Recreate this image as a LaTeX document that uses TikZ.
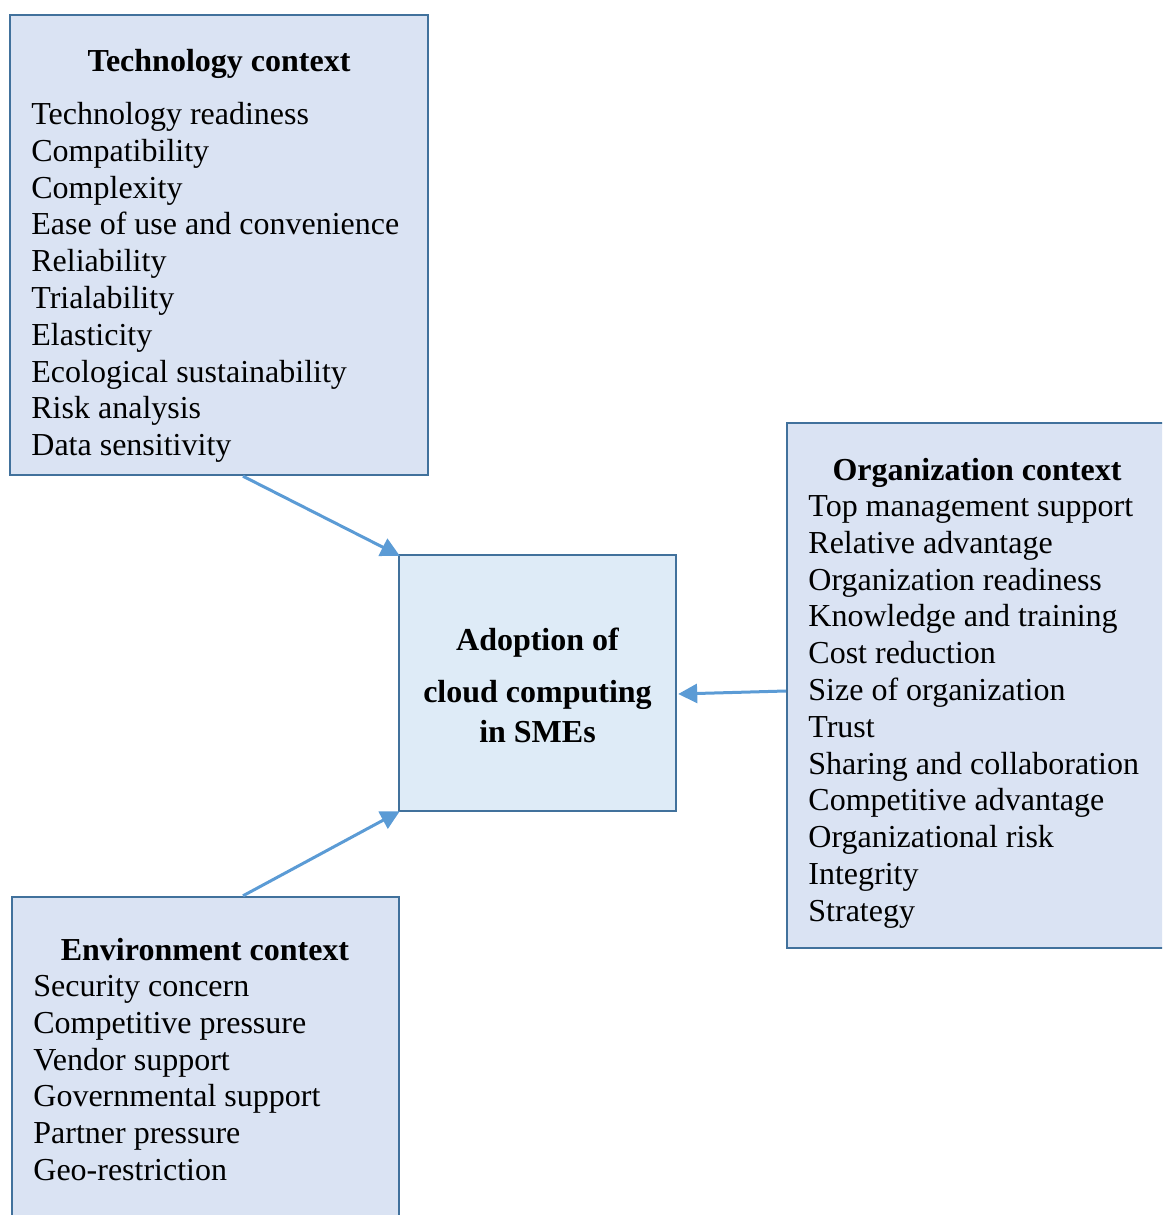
\documentclass[tikz,border=0pt]{standalone}
\usepackage{fontspec}
\setmainfont{Liberation Serif}
\usetikzlibrary{arrows.meta,calc}
\definecolor{boxfill}{HTML}{DAE3F3}
\definecolor{corefill}{HTML}{DEEBF7}
\definecolor{boxline}{HTML}{41719C}
\definecolor{arrowblue}{HTML}{5B9BD5}

\tikzset{
  ctxbox/.style={draw=boxline, line width=1.2pt, fill=boxfill, inner sep=0pt},
  corebox/.style={ctxbox, fill=corefill},
  title/.style={font=\fontsize{16}{18.4}\selectfont\bfseries, anchor=base, inner sep=0pt},
  factor/.style={font=\fontsize{16}{18.4}\selectfont, anchor=base west, inner sep=0pt},
  link/.style={draw=arrowblue, line width=1.5pt, -{Triangle[length=9.5pt,width=9.5pt]}}
}

\begin{document}
\begin{tikzpicture}[x=0.5pt, y=-0.5pt]
    \useasboundingbox (0,0) rectangle (1162,1215);
    \clip (0,0) rectangle (1162,1215);

    % context boxes
    \node[ctxbox, minimum width=209pt, minimum height=230pt] (tech) at (219,245) {};
    \node[corebox, minimum width=138.5pt, minimum height=128pt] (core) at (537.5,683) {};
    \node[ctxbox, minimum width=210pt, minimum height=262.5pt] (org) at (997,685.5) {};
    \node[ctxbox, minimum width=193.5pt, minimum height=180pt] (env) at (205.5,1077) {};

    % technology context
    \node[title] (tech-title) at (219,71) {Technology context};
    \foreach \f [count=\i] in {Technology readiness, Compatibility, Complexity,
        Ease of use and convenience, Reliability, Trialability, Elasticity,
        Ecological sustainability, Risk analysis, Data sensitivity}
      \node[factor] (tech-\i) at (31,{87.7+36.8*\i}) {\f};

    % organization context
    \node[title] (org-title) at (977,480) {Organization context};
    \foreach \f [count=\i] in {Top management support, Relative advantage,
        Organization readiness, Knowledge and training, Cost reduction,
        Size of organization, Trust, Sharing and collaboration,
        Competitive advantage, Organizational risk, Integrity, Strategy}
      \node[factor] (org-\i) at (808,{479.7+36.8*\i}) {\f};

    % environment context
    \node[title] (env-title) at (205,960) {Environment context};
    \foreach \f [count=\i] in {Security concern, Competitive pressure,
        Vendor support, Governmental support, Partner pressure, Geo-restriction}
      \node[factor] (env-\i) at (33,{959.7+36.8*\i}) {\f};

    % adoption
    \node[title] (core-1) at (537.5,650) {Adoption of};
    \node[title] (core-2) at (537.5,702) {cloud computing};
    \node[title] (core-3) at (537.5,742) {in SMEs};

    \draw[link] ($(tech.south)+(24,0)$) -- ($(core.north west)+(2,2)$);
    \draw[link] ($(env.north)+(37.5,0)$) -- ($(core.south west)+(2,-1)$);
    \draw[link] ($(org.west)+(0,5.5)$) -- ($(core.east)+(1,11)$);
\end{tikzpicture}
\end{document}
